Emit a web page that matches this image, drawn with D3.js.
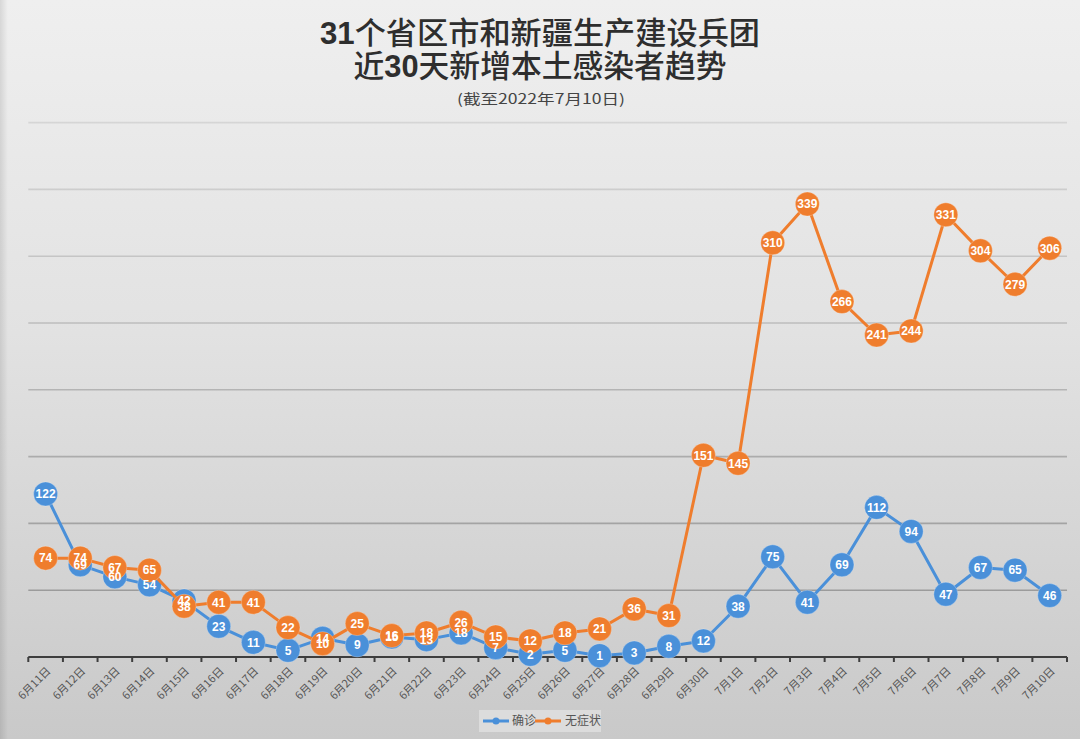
<!DOCTYPE html>
<html>
<head>
<meta charset="utf-8">
<script src="https://cdn.jsdelivr.net/npm/d3@7/dist/d3.min.js"></script>
<style>
html,body{margin:0;padding:0;background:#ddd;}
svg{display:block;}
</style>
</head>
<body>
<svg id="chart" width="1080" height="739"></svg>
<script>
const categories = ["6月11日","6月12日","6月13日","6月14日","6月15日","6月16日","6月17日","6月18日","6月19日","6月20日","6月21日","6月22日","6月23日","6月24日","6月25日","6月26日","6月27日","6月28日","6月29日","6月30日","7月1日","7月2日","7月3日","7月4日","7月5日","7月6日","7月7日","7月8日","7月9日","7月10日"];
const confirmed = [122,69,60,54,42,23,11,5,14,9,15,13,18,7,2,5,1,3,8,12,38,75,41,69,112,94,47,67,65,46];
const asymptomatic = [74,74,67,65,38,41,41,22,10,25,16,18,26,15,12,18,21,36,31,151,145,310,339,266,241,244,331,304,279,306];
const seriesNames = ["确诊","无症状"];
const yTicks = [0,50,100,150,200,250,300,350,400];
const titleLines = ["31个省区市和新疆生产建设兵团","近30天新增本土感染者趋势"];
const subtitle = "(截至2022年7月10日)";

(function(){
const W = 1080, H = 739;
const svg = d3.select("#chart");
const defs = svg.append("defs");
const bg = defs.append("linearGradient").attr("id","bg").attr("x1",0).attr("y1",0).attr("x2",0).attr("y2",1);
bg.append("stop").attr("offset","0%").attr("stop-color","#efefef");
bg.append("stop").attr("offset","45%").attr("stop-color","#e2e2e2");
bg.append("stop").attr("offset","100%").attr("stop-color","#c9c9c9");
const edge = defs.append("linearGradient").attr("id","edge").attr("x1",0).attr("y1",0).attr("x2",1).attr("y2",0);
edge.append("stop").attr("offset","0%").attr("stop-color","#000").attr("stop-opacity",0.10);
edge.append("stop").attr("offset","100%").attr("stop-color","#000").attr("stop-opacity",0);
const gg = defs.append("linearGradient").attr("id","grid").attr("gradientUnits","userSpaceOnUse")
  .attr("x1",0).attr("y1",120).attr("x2",0).attr("y2",600);
gg.append("stop").attr("offset","0%").attr("stop-color","#d6d6d6");
gg.append("stop").attr("offset","100%").attr("stop-color","#9a9a9a");

svg.append("rect").attr("width",W).attr("height",H).attr("fill","url(#bg)");
svg.append("rect").attr("width",8).attr("height",H).attr("fill","url(#edge)");

const pLeft = 28.3, pRight = 1067, pTop = 122.6, pBottom = 657;
const x = d3.scaleBand().domain(categories).range([pLeft,pRight]).padding(0);
const y = d3.scaleLinear().domain([0,400]).range([pBottom,pTop]);
const cx = c => x(c) + x.bandwidth()/2;

// gridlines
svg.append("g").selectAll("line").data(yTicks.filter(d=>d>0)).join("line")
  .attr("x1",pLeft).attr("x2",pRight)
  .attr("y1",d=>y(d)).attr("y2",d=>y(d))
  .attr("stroke","url(#grid)").attr("stroke-width",1.6);

// x axis
const xAxis = svg.append("g").attr("transform",`translate(0,${pBottom})`)
  .call(d3.axisBottom(x).tickSize(0).tickPadding(0));
xAxis.select(".domain").remove();
xAxis.selectAll(".tick").remove();
svg.append("line").attr("x1",pLeft).attr("x2",pRight).attr("y1",pBottom).attr("y2",pBottom)
  .attr("stroke","#3e3e3e").attr("stroke-width",2.2);
const tickPos = categories.map(c=>x(c)).concat([pRight]);
svg.append("g").selectAll("line").data(tickPos).join("line")
  .attr("x1",d=>d).attr("x2",d=>d).attr("y1",pBottom).attr("y2",pBottom+5)
  .attr("stroke","#3e3e3e").attr("stroke-width",2);
svg.append("g").selectAll("text").data(categories).join("text")
  .attr("transform",d=>`translate(${cx(d)+3},${pBottom+12}) rotate(-45)`)
  .attr("text-anchor","end").attr("dy","0.35em")
  .attr("font-family","'Noto Sans CJK SC', sans-serif").attr("font-size",11)
  .attr("fill","#555").text(d=>d);

// series
const colors = ["#4a90d9","#ef7d2d"];
const data = [confirmed, asymptomatic];
const line = d3.line().x((d,i)=>cx(categories[i])).y(d=>y(d));
const layers = data.map((vals,k)=>{
  const g = svg.append("g");
  g.append("path").datum(vals).attr("d",line).attr("fill","none")
    .attr("stroke",colors[k]).attr("stroke-width",3).attr("stroke-linejoin","round");
  g.selectAll("circle").data(vals).join("circle")
    .attr("cx",(d,i)=>cx(categories[i])).attr("cy",d=>y(d))
    .attr("r",12).attr("fill",colors[k])
    .attr("stroke","#fff").attr("stroke-opacity",0.25).attr("stroke-width",1);
  return g;
});
data.forEach((vals,k)=>{
  svg.append("g").selectAll("text").data(vals).join("text")
    .attr("x",(d,i)=>cx(categories[i])).attr("y",d=>y(d))
    .attr("text-anchor","middle").attr("dy","0.36em")
    .attr("font-family","'Liberation Sans', Arial, sans-serif").attr("font-weight","bold")
    .attr("font-size",12).attr("fill","#fff").text(d=>d);
});

// title
const tg = svg.append("g").attr("font-family","'Noto Sans CJK SC', sans-serif").attr("fill","#2e2e2e").attr("text-anchor","middle");
function titleLine(str, yy, width){
  const t = tg.append("text").attr("x",540).attr("y",yy).attr("font-size",31).attr("font-weight",500)
    .attr("textLength",width).attr("lengthAdjust","spacingAndGlyphs");
  const m = str.match(/^(\D*)(\d+)(.*)$/);
  if(m){
    if(m[1]) t.append("tspan").text(m[1]);
    t.append("tspan").attr("font-family","'Liberation Sans', Arial, sans-serif").attr("font-weight","bold").text(m[2]);
    t.append("tspan").text(m[3]);
  } else t.text(str);
}
titleLine(titleLines[0], 44, 440);
titleLine(titleLines[1], 77, 373);
tg.append("text").attr("x",541).attr("y",104).attr("font-size",14).attr("fill","#444")
  .attr("textLength",168).attr("lengthAdjust","spacingAndGlyphs").text(subtitle);

// legend
const lg = svg.append("g").attr("transform","translate(0,721)");
lg.append("rect").attr("x",479).attr("y",-11).attr("width",122).attr("height",22).attr("fill","#dcdcdc");
const legendX = [483,535];
const labelX = [512,565];
seriesNames.forEach((n,k)=>{
  lg.append("line").attr("x1",legendX[k]).attr("x2",legendX[k]+26).attr("y1",0).attr("y2",0)
    .attr("stroke",colors[k]).attr("stroke-width",3);
  lg.append("circle").attr("cx",legendX[k]+13).attr("cy",0).attr("r",3.5).attr("fill",colors[k]);
  lg.append("text").attr("x",labelX[k]).attr("y",0).attr("dy","0.35em")
    .attr("font-family","'Noto Sans CJK SC', sans-serif").attr("font-size",12).attr("fill","#555").text(n);
});
})();
</script>
</body>
</html>
